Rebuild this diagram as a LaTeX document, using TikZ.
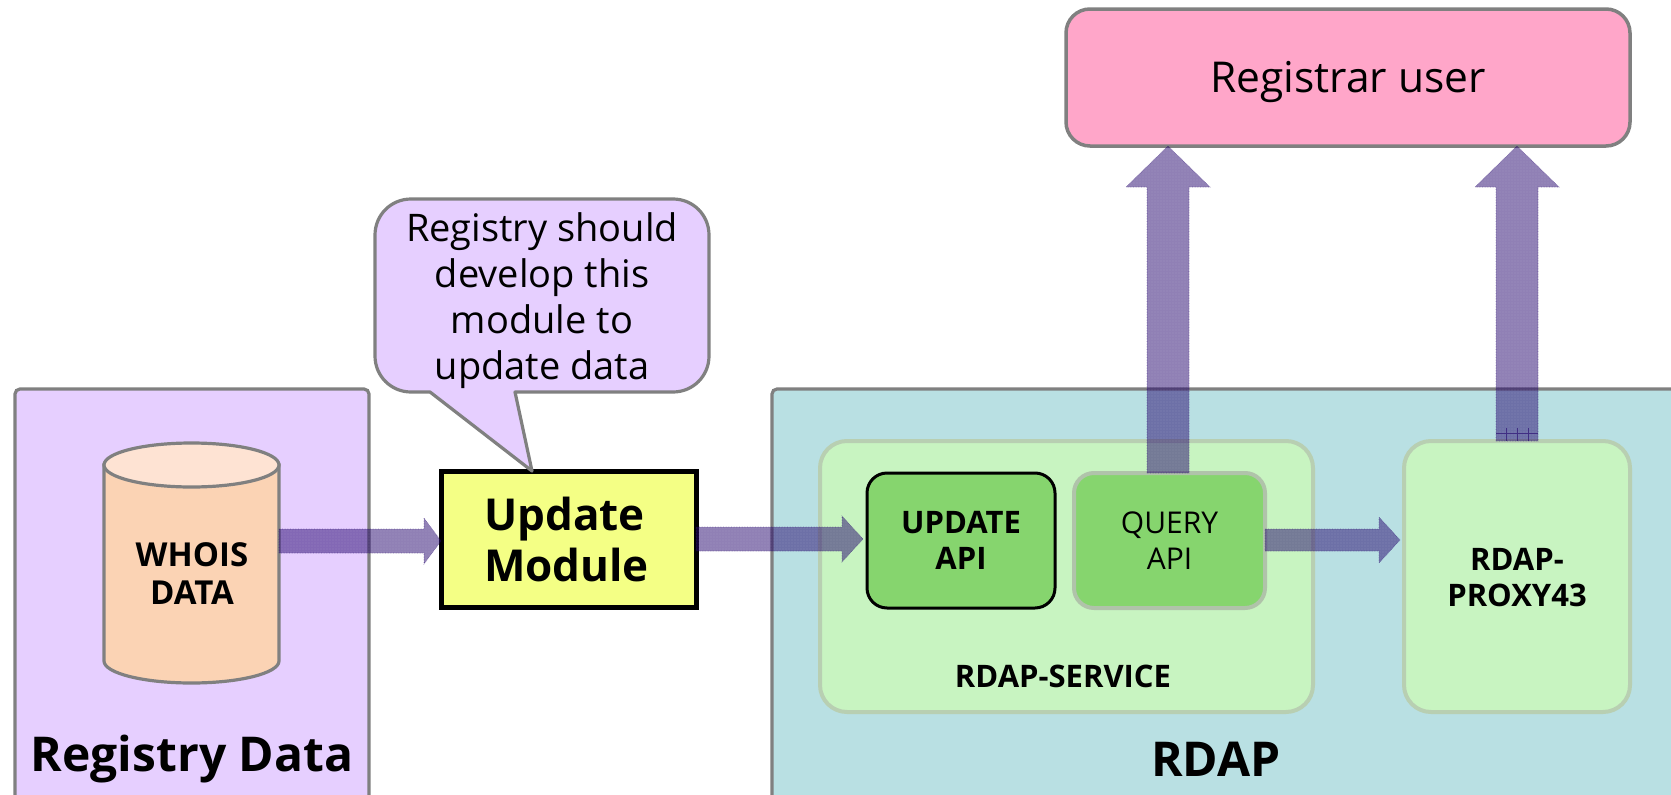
\documentclass[tikz,border=0pt]{standalone}
\usepackage{fontspec}
\setmainfont{Open Sans}
\usetikzlibrary{calc,patterns}
\definecolor{lav}{HTML}{E6CFFF}
\definecolor{teal}{HTML}{B9E0E3}
\definecolor{pale}{HTML}{C8F4C1}
\definecolor{paleedge}{HTML}{B8CFB2}
\definecolor{leaf}{HTML}{86D56E}
\definecolor{edgegray}{HTML}{808080}
\definecolor{pinkbox}{HTML}{FFA6C9}
\definecolor{yel}{HTML}{F4FF85}
\definecolor{flowc}{HTML}{22026C}
\definecolor{cylbody}{HTML}{FBD3B4}
\definecolor{cyltop}{HTML}{FEE3D3}
\pgfdeclarepatternformonly{finedots}{\pgfqpoint{-1pt}{-1pt}}{\pgfqpoint{1pt}{1pt}}{\pgfqpoint{3pt}{3pt}}{%
  \pgfpathcircle{\pgfqpoint{0pt}{0pt}}{.45pt}\pgfusepath{fill}}
\newcommand\fatarrow[5]{%
  \coordinate (hb) at ($(#2)!#4!(#1)$);
  \draw[flow] ($(#1)!#3!90:(#2)$) -- ($(hb)!#3!90:(#2)$) -- ($(hb)!#5!90:(#2)$) -- (#2)
    -- ($(hb)!#5!-90:(#2)$) -- ($(hb)!#3!-90:(#2)$) -- ($(#1)!#3!-90:(#2)$) -- cycle;
  \path[pattern=finedots,pattern color=white,fill opacity=.45] ($(#1)!#3!90:(#2)$) -- ($(hb)!#3!90:(#2)$) -- ($(hb)!#5!90:(#2)$) -- (#2)
    -- ($(hb)!#5!-90:(#2)$) -- ($(hb)!#3!-90:(#2)$) -- ($(#1)!#3!-90:(#2)$) -- cycle;
}
\tikzset{
  x=1pt,y=-1pt,
  panel/.style={draw=edgegray,line width=3.2pt,rounded corners=5pt,inner sep=0pt,outer sep=0pt},
  softbox/.style={draw=paleedge,fill=pale,line width=4pt,rounded corners=27pt,inner sep=0pt,outer sep=0pt},
  apibox/.style={rounded corners=20pt,fill=leaf,inner sep=0pt,outer sep=0pt,minimum width=189pt,minimum height=135pt},
  flow/.style={fill=flowc,fill opacity=.5,draw=flowc,draw opacity=.45,line width=.6pt,densely dotted},
  bigbold/.style={font=\fontsize{48}{50}\selectfont\bfseries,inner sep=0pt},
  midbold/.style={font=\fontsize{31}{36}\selectfont\bfseries,align=center,inner sep=0pt},
  midreg/.style={font=\fontsize{30}{36}\selectfont,align=center,inner sep=0pt},
  large/.style={font=\fontsize{38}{46}\selectfont,align=center,inner sep=0pt},
}
\begin{document}
\begin{tikzpicture}
\useasboundingbox (0,0) rectangle (1671,795);
\clip (0,0) rectangle (1671,795);
\fill[white] (0,0) rectangle (1671,795);
% panels
\node[panel,fill=lav,minimum width=354pt,minimum height=460pt,anchor=north west] (registry) at (15,389) {};
\node[panel,fill=teal,minimum width=960pt,minimum height=460pt,anchor=north west] (rdap) at (772,389) {};
\node[softbox,minimum width=493pt,minimum height=271pt,anchor=north west] (service) at (820,441) {};
\node[softbox,minimum width=226pt,minimum height=271pt,anchor=north west] (proxy) at (1404,441) {};
\node[apibox,draw=black,line width=3pt,minimum width=188pt,anchor=north west] (updateapi) at (867,473) {};
\node[apibox,draw=paleedge!85!gray,line width=4pt,minimum width=191pt,anchor=north west] (queryapi) at (1074,473) {};
\node[panel,fill=pinkbox,rounded corners=24pt,line width=3.5pt,minimum width=564pt,minimum height=137pt,anchor=north west] (registrar) at (1066,9) {};
\node[draw=black,fill=yel,line width=5pt,inner sep=0pt,outer sep=0pt,minimum width=255pt,minimum height=136pt,anchor=north west] (updatemod) at (441,471) {};
% cylinder
\draw[fill=cylbody,draw=edgegray,line width=3.2pt] (104,465) -- (104,661) .. controls (104,673) and (143,683) .. (191.5,683) .. controls (240,683) and (279,673) .. (279,661) -- (279,465) -- cycle;
\draw[fill=cyltop,draw=edgegray,line width=3.2pt] (191.5,465) ellipse [x radius=87.5pt,y radius=22pt];
\node[minimum width=175pt,minimum height=240pt,inner sep=0pt,outer sep=0pt] (whois) at (191.5,563) {};
% callout
\coordinate (tip) at (updatemod.north -| 532,0);
\draw[fill=lav,draw=edgegray,line width=3.2pt,line join=round] (411,199) -- (673,199) .. controls (693,199) and (709,215) .. (709,235) -- (709,356) .. controls (709,376) and (693,392) .. (673,392) -- (515,392) -- (tip) -- (430,392) -- (411,392) .. controls (391,392) and (375,376) .. (375,356) -- (375,235) .. controls (375,215) and (391,199) .. (411,199) -- cycle;
% connectors
\coordinate (a1s) at (whois.east |- 0,541);
\coordinate (a1e) at (updatemod.west |- 0,541);
\coordinate (a2s) at (updatemod.east |- 0,539);
\coordinate (a2e) at ($(updateapi.west |- 0,539)+(-4,0)$);
\coordinate (a3s) at (queryapi.east |- 0,540);
\coordinate (a3e) at ($(proxy.west |- 0,540)+(-4,0)$);
\coordinate (a4s) at (queryapi.north -| 1168,0);
\coordinate (a4e) at (registrar.south -| 1168,0);
\coordinate (a5s) at (proxy.north -| 1517,0);
\coordinate (a5e) at (registrar.south -| 1517,0);
\fatarrow{a1s}{a1e}{12pt}{17pt}{23pt}
\fatarrow{a2s}{a2e}{12pt}{21pt}{23pt}
\fatarrow{a3s}{a3e}{11pt}{21pt}{23pt}
\fatarrow{a4s}{a4e}{21pt}{41pt}{42pt}
\fatarrow{a5s}{a5e}{21pt}{41pt}{42pt}
\draw[flowc,opacity=.6,line width=.6pt] (1496,433) -- (1538,433) (1506,428) -- (1506,441) (1517,428) -- (1517,441) (1528,428) -- (1528,441);
% texts
\node[bigbold] (registrylabel) at (192,759) {Registry Data};
\node[bigbold] (rdaplabel) at (1216,759) {RDAP};
\node[midbold,font=\fontsize{33}{38}\selectfont\bfseries] (whoislabel) at (192,574) {WHOIS\\DATA};
\node[bigbold,align=left,font=\fontsize{44}{51}\selectfont\bfseries] (updatemodlabel) at ($(updatemod.center)+(-2,0)$) {Update\\Module};
\node[midbold] (updatelabel) at (updateapi.center) {UPDATE\\API};
\node[midreg] (querylabel) at (queryapi.center) {QUERY\\API};
\node[midbold] (servicelabel) at (1063,676) {RDAP-SERVICE};
\node[midbold] (proxylabel) at (1517,578) {RDAP-\\PROXY43};
\node[large] (notelabel) at (542,301) {Registry should\\develop this\\module to\\update data};
\node[font=\fontsize{42.5}{48}\selectfont,inner sep=0pt] (registrarlabel) at ($(registrar.center)+(0,5)$) {Registrar user};
\end{tikzpicture}
\end{document}
